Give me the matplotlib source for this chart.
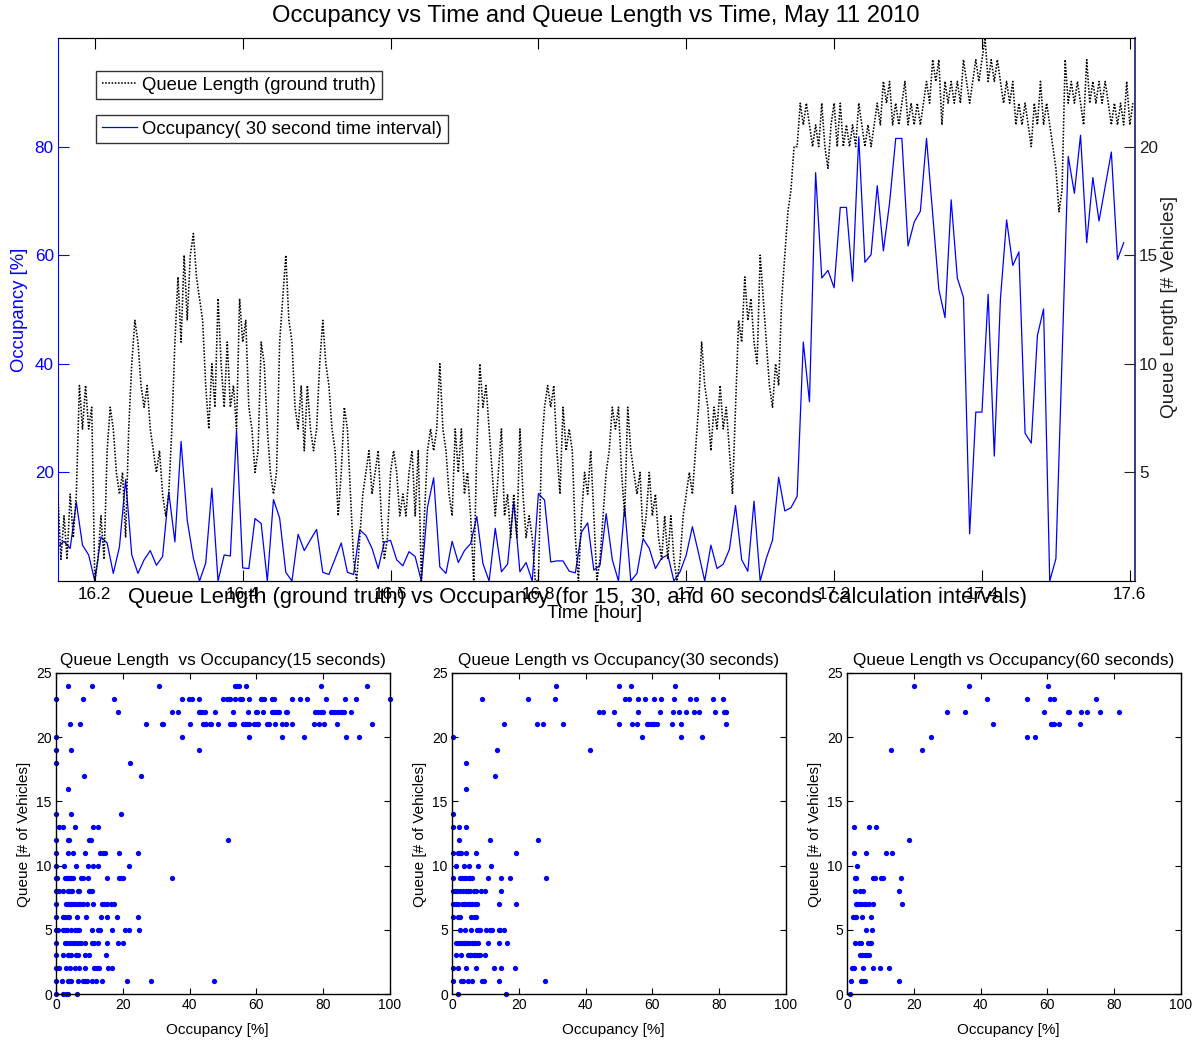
import numpy as np
import matplotlib
matplotlib.use("Agg")
import matplotlib.pyplot as plt

plt.rcParams['font.family'] = ['Liberation Sans', 'DejaVu Sans']

# occupancy, 30 second intervals starting at 16.15 h
occ30 = [6.3, 7.3, 6.0, 14.5, 6.6, 4.8, 0, 8.1, 7.0, 1.4, 6.3, 18.7, 4.8, 1.4, 3.9, 5.6,
         2.9, 4.5, 16.4, 7.2, 25.7, 11.2, 4.2, 0, 3.3, 17.1, 0, 4.8, 4.6, 27.8, 2.4, 2.3,
         11.5, 10.6, 0, 15.0, 11.6, 1.6, 0, 8.6, 5.6, 7.6, 9.5, 1.6, 1.2, 4.1, 7.0, 1.6,
         1.2, 9.4, 8.4, 6.0, 2.3, 7.2, 7.5, 3.9, 2.8, 5.4, 4.5, 0, 13.6, 19.0, 2.6, 1.4,
         7.3, 3.4, 5.6, 6.9, 11.9, 3.2, 0, 9.7, 1.7, 3.1, 14.6, 1.7, 3.4, 0, 16.1, 14.9,
         3.5, 3.7, 3.7, 1.8, 1.5, 9.0, 10.7, 2.0, 2.9, 12.4, 3.9, 0, 13.8, 0, 1.4, 7.8,
         6.0, 2.3, 4.2, 4.8, 0, 1.7, 4.8, 10.0, 5.1, 0, 6.6, 2.3, 3.1, 5.8, 13.9, 3.9,
         1.8, 14.7, 0, 4.2, 7.5, 19.1, 12.9, 13.5, 15.6, 44.0, 33.0, 75.2, 55.8, 57.2, 54.0, 68.8,
         68.8, 55.2, 81.8, 58.7, 60.1, 72.8, 60.8, 69.6, 81.5, 81.5, 61.7, 66.1, 68.1, 81.5, 67.5, 53.7,
         48.5, 70.2, 55.8, 52.2, 8.7, 31.1, 31.1, 52.8, 23.0, 52.0, 66.5, 58.1, 60.6, 27.2, 25.4, 45.2,
         50.1, 0, 4.1, 41.0, 78.2, 71.4, 82.1, 62.3, 74.3, 66.3, 72.6, 79.0, 59.2, 62.3]

# ground truth queue length, 15 second samples starting at 16.15 h
queue = [4, 1, 3, 1, 4, 2, 4, 9, 7, 9, 7, 8, 0, 1, 3, 1, 6, 8, 7, 5, 4, 5, 2, 7,
         10, 12, 11, 9, 8, 9, 7, 6, 5, 6, 4, 3, 4, 7, 11, 14, 11, 15, 12, 15, 16, 14, 13, 12,
         9, 7, 10, 8, 13, 10, 8, 11, 8, 9, 7, 13, 11, 12, 8, 7, 5, 6, 11, 10, 7, 5, 4, 5,
         11, 13, 15, 12, 11, 8, 7, 9, 6, 9, 7, 6, 7, 10, 12, 10, 9, 7, 6, 3, 5, 8, 7, 4,
         1, 0, 2, 4, 5, 6, 4, 5, 6, 3, 1, 2, 5, 6, 5, 3, 4, 3, 5, 6, 3, 6, 0, 3,
         6, 7, 6, 7, 10, 7, 6, 4, 3, 7, 5, 7, 4, 5, 3, 0, 6, 10, 8, 9, 7, 5, 3, 5,
         7, 3, 4, 2, 4, 2, 7, 4, 2, 3, 2, 0, 0, 6, 8, 9, 8, 9, 6, 4, 8, 6, 7, 6,
         2, 0, 3, 5, 4, 6, 3, 0, 1, 3, 5, 6, 8, 7, 8, 5, 3, 8, 6, 5, 4, 5, 2, 3,
         5, 3, 4, 2, 1, 3, 1, 3, 1, 0, 1, 3, 4, 5, 4, 6, 8, 11, 9, 8, 6, 8, 7, 9,
         7, 8, 6, 4, 8, 12, 11, 14, 12, 13, 11, 10, 15, 13, 11, 9, 8, 10, 9, 13, 15, 17, 18, 20,
         20, 22, 21, 22, 21, 20, 21, 20, 22, 20, 19, 21, 22, 20, 22, 20, 21, 20, 21, 20, 22, 21, 20, 21,
         20, 21, 22, 21, 23, 22, 23, 21, 22, 21, 22, 23, 21, 22, 21, 22, 21, 22, 23, 22, 24, 23, 24, 21,
         23, 22, 23, 22, 23, 22, 24, 23, 22, 23, 24, 23, 24, 25, 23, 24, 23, 24, 23, 22, 23, 22, 23, 21,
         22, 21, 22, 21, 20, 22, 21, 23, 21, 22, 21, 20, 19, 17, 18, 24, 22, 23, 22, 23, 22, 21, 24, 22,
         23, 22, 23, 22, 23, 22, 21, 22, 21, 22, 21, 23, 21, 22]

t_occ = 16.15 + np.arange(len(occ30)) / 120.0
t_queue = 16.15 + np.arange(len(queue)) / 240.0

time_ticks = [16.2, 16.4, 16.6, 16.8, 17.0, 17.2, 17.4, 17.6]
time_labels = ['16.2', '16.4', '16.6', '16.8', '17', '17.2', '17.4', '17.6']

# (queue length, occupancies observed at that queue length)
scatter15 = [
    (24, [3.7, 10.7, 30.8, 53.7, 54.3, 54.7, 56.9, 79.2, 93.2]),
    (23, [0, 8.0, 17.5, 37.8, 39.7, 40.7, 42.7, 49.9, 51.1, 51.7, 52.1, 53.6, 55.1, 55.8, 57.9,
          61.3, 61.7, 62.4, 64.7, 65.3, 70.7, 73.1, 75.1, 80.7, 86.5, 89.8, 100]),
    (22, [18.7, 34.6, 36.6, 42.7, 43.1, 43.6, 44.7, 47.6, 53.1, 57.4, 59.8, 60.1, 62.1, 64.7, 65.3,
          65.9, 66.6, 66.9, 68.9, 69.3, 77.5, 78.5, 79.2, 79.8, 82.2, 82.8, 83.6, 84.3, 85.3, 85.5,
          86.3, 88.3]),
    (21, [4.3, 7.3, 26.9, 31.6, 32.1, 40.1, 44.0, 44.4, 44.8, 46.1, 46.5, 48.6, 52.1, 52.6, 53.4,
          56.1, 56.6, 57.1, 57.9, 59.4, 60.1, 60.6, 63.1, 63.9, 65.5, 67.8, 68.9, 70.6, 77.1, 78.8,
          80.3, 84.0, 94.5]),
    (20, [0, 37.8, 57.9, 67.6, 74.3, 86.7, 90.7]),
    (19, [0, 4.6, 42.7]),
    (18, [0, 22.3]),
    (17, [8.3, 25.4]),
    (16, [3.7]),
    (14, [0, 4.4, 19.4]),
    (13, [0.9, 2.2, 5.7, 11.0, 12.5]),
    (12, [0, 3.7, 4.0, 10.0, 10.5, 51.6]),
    (11, [0, 3.5, 5.0, 8.8, 13.2, 14.1, 14.8, 18.9, 24.5]),
    (10, [0, 2.5, 5.9, 9.7, 11.2, 12.5, 21.9]),
    (9, [0, 0.2, 2.8, 3.2, 3.7, 4.2, 4.5, 5.2, 7.5, 8.0, 9.7, 15.4, 18.8, 19.4, 20.0, 34.6]),
    (8, [0, 0.4, 1.0, 2.2, 3.7, 4.2, 4.8, 6.5, 6.9, 9.9, 10.2, 10.7]),
    (7, [0, 3.0, 3.5, 3.9, 4.5, 5.0, 5.7, 6.5, 7.2, 8.2, 9.4, 11.0, 13.7, 14.5, 15.2, 16.5, 17.5]),
    (6, [0, 2.2, 2.8, 3.7, 4.0, 6.2, 9.0, 13.4, 15.4, 18.2, 24.5]),
    (5, [0, 0.7, 2.2, 2.8, 3.2, 4.5, 5.7, 6.2, 6.9, 10.7, 12.7, 13.2, 16.8, 20.7, 21.9, 24.8]),
    (4, [0, 2.7, 3.2, 4.2, 5.0, 5.7, 6.7, 7.5, 8.8, 10.9, 11.5, 12.7, 15.4, 18.5, 20.2]),
    (3, [0, 2.2, 3.7, 4.0, 4.5, 6.0, 6.5, 8.7, 10.0, 14.9]),
    (2, [0, 1.0, 3.0, 4.2, 5.7, 7.0, 8.7, 11.5, 12.2, 12.9, 15.7, 16.9]),
    (1, [0, 1.7, 3.5, 4.0, 4.5, 6.7, 8.2, 8.8, 9.4, 10.7, 12.0, 13.7, 21.2, 28.4, 47.3]),
    (0, [0, 2.2, 3.0, 3.7, 6.4]),
]

scatter30 = [
    (24, [31.1, 50.0, 53.6, 66.9]),
    (23, [9.0, 22.9, 30.9, 51.8, 53.0, 55.8, 57.8, 60.6, 62.5, 66.5, 71.3, 73.0, 78.1, 81.1]),
    (22, [43.9, 45.2, 48.4, 55.6, 62.3, 66.1, 68.1, 70.0, 72.5, 74.0, 78.8, 81.5, 81.9]),
    (21, [15.7, 25.4, 27.2, 33.1, 50.0, 53.8, 55.3, 58.3, 58.8, 59.5, 60.1, 60.6, 61.5, 65.8,
          68.6, 81.9]),
    (20, [0.2, 57.0, 68.6, 74.8]),
    (19, [13.5, 41.4]),
    (18, [4.3]),
    (17, [12.8]),
    (16, [4.1]),
    (14, [0.2]),
    (13, [0.2, 2.0, 4.2]),
    (12, [2.0, 11.3, 25.7]),
    (11, [0.2, 1.8, 2.3, 2.8, 4.2, 7.3, 19.2]),
    (10, [1.3, 3.7, 5.2, 7.8, 11.8]),
    (9, [0.2, 2.5, 3.0, 3.7, 4.3, 5.0, 5.5, 6.0, 10.7, 14.7, 17.4, 28.2]),
    (8, [0.2, 0.8, 1.5, 2.3, 3.2, 4.2, 4.8, 5.5, 6.5, 7.2, 8.8, 9.8, 14.7]),
    (7, [0.2, 1.3, 1.7, 3.0, 3.5, 4.0, 4.8, 5.3, 6.0, 6.8, 7.5, 14.0, 19.2]),
    (6, [0.2, 1.7, 2.5, 5.8, 6.5, 7.3]),
    (5, [2.5, 4.0, 5.8, 7.5, 8.0, 8.5, 10.3, 11.5, 12.0, 14.0, 14.5, 15.5]),
    (4, [1.3, 1.7, 2.3, 3.0, 3.5, 4.0, 4.5, 5.2, 6.0, 6.5, 7.0, 7.7, 10.8, 14.0, 16.5]),
    (3, [1.3, 2.8, 4.8, 5.3, 5.8, 6.5, 7.0, 7.5, 8.0, 8.5, 10.0]),
    (2, [0.2, 1.7, 4.3, 7.3, 12.7, 14.8, 19.0]),
    (1, [0.2, 2.8, 3.3, 4.8, 6.0, 9.0, 9.5, 14.2, 27.7]),
    (0, [1.8, 16.2]),
]

scatter60 = [
    (24, [20.0, 36.5, 60.3]),
    (23, [41.8, 54.0, 60.8, 62.0, 74.5]),
    (22, [30.0, 35.3, 59.0, 66.3, 66.6, 70.1, 71.9, 75.7, 81.3]),
    (21, [43.8, 61.0, 61.5, 62.0, 63.6, 69.9]),
    (20, [25.0, 54.0, 56.3]),
    (19, [13.1, 22.6]),
    (13, [2.1, 6.6, 8.8]),
    (12, [18.5]),
    (11, [2.1, 5.6, 11.6, 13.5]),
    (10, [3.0]),
    (9, [2.3, 2.8, 7.8, 8.3, 10.1, 10.8, 16.3]),
    (8, [2.5, 4.0, 4.8, 15.5]),
    (7, [2.6, 3.1, 3.6, 4.3, 5.0, 5.6, 6.5, 7.8, 16.6]),
    (6, [1.8, 2.3, 2.8, 4.6, 7.1]),
    (5, [5.6, 7.6]),
    (4, [2.3, 3.6, 4.3, 6.3, 6.8, 7.3]),
    (3, [4.0, 4.6, 5.3, 6.1, 6.6]),
    (2, [1.6, 2.1, 4.8, 7.8, 10.0, 12.5]),
    (1, [1.3, 4.3, 4.8, 5.5, 15.5]),
    (0, [0.8]),
]

W, H = 1192.0, 1043.0
fig = plt.figure(figsize=(W / 100, H / 100), dpi=100)

# ---- time series, occupancy (left) and queue length (right)
ax1 = fig.add_axes([58 / W, 1 - 581 / H, 1077 / W, 543 / H])
ho, = ax1.plot(t_occ, occ30, color='#0000ff', lw=0.9)
ax1.set_xlim(16.1502, 17.607)
ax1.set_ylim(0, 100)
ax1.set_xticks(time_ticks)
ax1.set_xticklabels(time_labels)
ax1.set_yticks([20, 40, 60, 80])
ax1.tick_params(axis='x', direction='in', length=8, width=0.8, top=True, labelsize=12.3, pad=4)
ax1.tick_params(axis='y', direction='in', length=8, width=0.8, colors='#0000ff',
                labelsize=12.3, pad=3, right=False)
ax1.spines['left'].set_color('#0000ff')
ax1.spines['right'].set_visible(False)

ax2 = ax1.twinx()
hq, = ax2.plot(t_queue, queue, color='k', lw=1.15, ls=(0, (1.0, 1.0)))
ax2.set_ylim(0, 25)
ax2.set_yticks([5, 10, 15, 20])
ax2.tick_params(axis='y', direction='in', length=8, width=0.8, colors='#202020',
                labelsize=12.3, pad=3)
ax2.spines['right'].set_color('#1a1a70')
ax2.spines['right'].set_linewidth(1.2)
ax2.spines['left'].set_visible(False)

leg_kw = dict(loc='upper left', fontsize=13.3, frameon=True, fancybox=False, borderpad=0.3,
              handlelength=1.9, handletextpad=0.3, borderaxespad=0,
              bbox_transform=fig.transFigure)
leg1 = ax2.legend([hq], ['Queue Length (ground truth)'],
                  bbox_to_anchor=(96 / W, 1 - 71 / H), **leg_kw)
leg1.get_frame().set_edgecolor('k')
leg1.get_frame().set_linewidth(1.0)
ax2.add_artist(leg1)
leg2 = ax2.legend([ho], ['Occupancy( 30 second time interval)'],
                  bbox_to_anchor=(96 / W, 1 - 115 / H), **leg_kw)
leg2.get_frame().set_edgecolor('k')
leg2.get_frame().set_linewidth(1.0)

fig.text(596 / W, 1 - 16 / H, 'Occupancy vs Time and Queue Length vs Time, May 11 2010',
         ha='center', va='center', fontsize=17.1)
fig.text(20 / W, 1 - 310 / H, 'Occupancy [%]', rotation=90, ha='center', va='center',
         fontsize=13.3, color='#0000ff')
fig.text(1170 / W, 1 - 307 / H, 'Queue Length [# Vehicles]', rotation=90, ha='center',
         va='center', fontsize=13.7, color='#202020')
fig.text(595 / W, 1 - 614 / H, 'Time [hour]', ha='center', va='center', fontsize=13.7)
fig.text(578 / W, 1 - 597 / H,
         'Queue Length (ground truth) vs Occupancy (for 15, 30, and 60 seconds calculation intervals)',
         ha='center', va='center', fontsize=15.8)

# ---- scatter plots for the three interval lengths
panels = [
    (56, scatter15, 'Queue Length  vs Occupancy(15 seconds)'),
    (452, scatter30, 'Queue Length vs Occupancy(30 seconds)'),
    (847, scatter60, 'Queue Length vs Occupancy(60 seconds)'),
]
for left, rows, title in panels:
    ax = fig.add_axes([left / W, 1 - 994 / H, 334 / W, 321 / H])
    xs = [o for q, occ in rows for o in occ]
    ys = [q for q, occ in rows for o in occ]
    ax.plot(xs, ys, 'o', color='#0000ff', ms=3.8, mew=0, clip_on=False)
    ax.set_xlim(0, 100)
    ax.set_ylim(0, 25)
    ax.set_xticks([0, 20, 40, 60, 80, 100])
    ax.set_yticks([0, 5, 10, 15, 20, 25])
    ax.tick_params(direction='in', length=4, width=0.8, top=True, right=True,
                   labelsize=10, pad=3)
    for s in ax.spines.values():
        s.set_linewidth(1.0)
    cx = left + 167
    fig.text(cx / W, 1 - 660 / H, title, ha='center', va='center', fontsize=12.3)
    fig.text((cx - 6) / W, 1 - 1030 / H, 'Occupancy [%]', ha='center', va='center',
             fontsize=11)
    fig.text((left - 32) / W, 1 - 834 / H, 'Queue [# of Vehicles]', rotation=90,
             ha='center', va='center', fontsize=11)

fig.savefig('out.png', dpi=100)
